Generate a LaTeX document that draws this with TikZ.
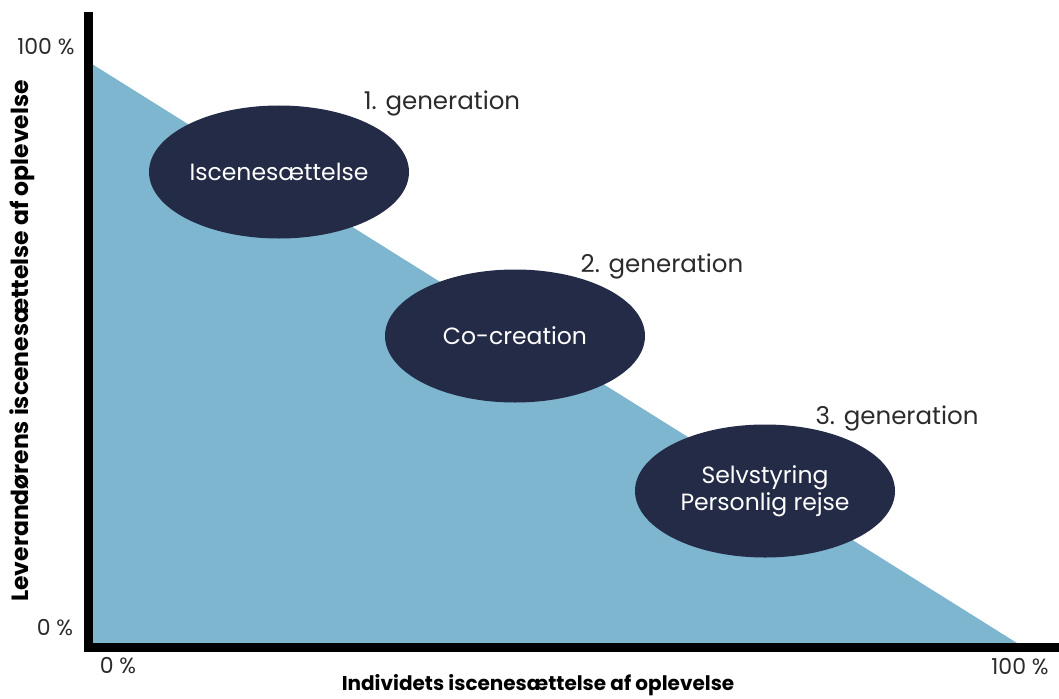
\documentclass[tikz,border=0pt]{standalone}
\usepackage{fontspec}
\setmainfont{Poppins}
\usetikzlibrary{shapes,positioning}

\definecolor{skyfill}{HTML}{7EB6D0}
\definecolor{navy}{HTML}{232B46}
\definecolor{greytext}{HTML}{2B2B2B}

\tikzset{
  stage/.style={ellipse, fill=navy, text=white, minimum width=260pt, minimum height=133pt, align=center, font=\fontsize{23.5}{27}\selectfont, inner sep=0pt},
  genlabel/.style={text=greytext, font=\fontsize{24.5}{28}\selectfont, inner sep=0pt},
  ticklabel/.style={text=greytext, font=\fontsize{22}{26}\selectfont, inner sep=0pt},
  axistitle/.style={font=\bfseries\fontsize{20}{24}\selectfont, inner sep=0pt}
}

\begin{document}
\begin{tikzpicture}[x=1pt, y=-1pt]
    \useasboundingbox (0,0) rectangle (1059,698);

    % Axis corners
    \coordinate (ytop) at (88,12);
    \coordinate (origin) at (88,647);
    \coordinate (xend) at (1059,647);

    % Triangle
    \fill[skyfill] (92,64) -- (1017,643) -- (92,643) -- cycle;

    % Axes
    \draw[line width=9pt] (ytop) -- (origin) -- (xend);

    % Three generations
    \node[stage] (iscene) at (279,172) {Iscenesættelse};
    \node[stage] (cocre) at (515,336) {Co-creation};
    \node[stage] (selv) at (765,491) {Selvstyring\\Personlig rejse};

    \node[genlabel] (gen1) at (442,103) {1. generation};
    \node[genlabel] (gen2) at (662,266) {2. generation};
    \node[genlabel] (gen3) at (897,418) {3. generation};

    % Tick labels
    \node[ticklabel] (ymax) at (46,47) {100 \%};
    \node[ticklabel] (ymin) at (55,628) {0 \%};
    \node[ticklabel] (xmin) at (118,666) {0 \%};
    \node[ticklabel] (xmax) at (1020,667) {100 \%};

    % Axis titles
    \node[axistitle] (xtitle) at (538,685) {Individets iscenesættelse af oplevelse};
    \node[axistitle, font=\bfseries\fontsize{23.5}{27}\selectfont, rotate=90] (ytitle) at (22,341) {Leverandørens iscenesættelse af oplevelse};
\end{tikzpicture}
\end{document}
